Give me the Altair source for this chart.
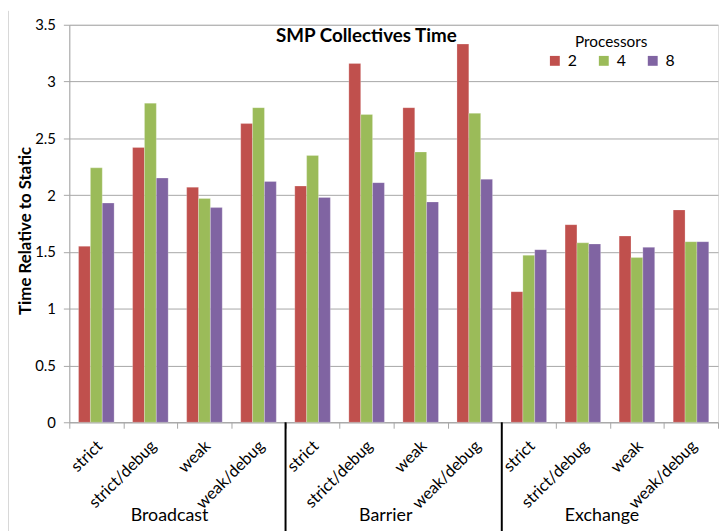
import altair as alt
import pandas as pd

FONT = "Lato"

groups = ["Broadcast", "Barrier", "Exchange"]
modes = ["strict", "strict/debug", "weak", "weak/debug"]
processors = ["2", "4", "8"]
colors = ["#C0504D", "#9BBB59", "#8064A2"]

p2 = [1.55, 2.42, 2.07, 2.63, 2.08, 3.16, 2.77, 3.33, 1.15, 1.74, 1.64, 1.87]
p4 = [2.24, 2.81, 1.97, 2.77, 2.35, 2.71, 2.38, 2.72, 1.47, 1.58, 1.45, 1.59]
p8 = [1.93, 2.15, 1.89, 2.12, 1.98, 2.11, 1.94, 2.14, 1.52, 1.57, 1.54, 1.59]

y_ticks = [0, 0.5, 1, 1.5, 2, 2.5, 3, 3.5]

keys = [f"{g}|{m}" for g in groups for m in modes]
rows = []
for i, k in enumerate(keys):
    for p, vals in zip(processors, [p2, p4, p8]):
        rows.append({"key": k, "Processors": p, "value": vals[i]})
df = pd.DataFrame(rows)

sep_df = pd.DataFrame({"key": ["Barrier|strict", "Exchange|strict"]})
grp_df = pd.DataFrame({"key": [f"{g}|strict/debug" for g in groups], "label": groups})

xscale = alt.Scale(domain=keys, paddingInner=0, paddingOuter=0)
GRAY = "#a6a6a6"

xaxis = alt.Axis(
    title=None, labelExpr="split(datum.value, '|')[1]", labelAngle=-45,
    labelAlign="right", labelBaseline="middle", labelPadding=15, labelOffset=3,
    labelFontSize=16.5, labelColor="#000", labelFont=FONT, labelOverlap=False,
    tickBand="extent", tickSize=6, tickColor=GRAY, domainColor=GRAY, grid=False)

bars = alt.Chart(df).mark_bar(stroke="#ffffff", strokeOpacity=0.3, strokeWidth=0.8).encode(
    x=alt.X("key:N", scale=xscale, axis=xaxis),
    xOffset=alt.XOffset("Processors:N", scale=alt.Scale(paddingInner=0, paddingOuter=0.78)),
    y=alt.Y("value:Q", scale=alt.Scale(domain=[0, 3.5], nice=False), axis=alt.Axis(
        title="Time Relative to Static", values=y_ticks, format="~g",
        labelFontSize=15, labelColor="#000", labelFont=FONT, labelPadding=8,
        tickSize=6, tickColor=GRAY, domainColor=GRAY, gridColor=GRAY,
        titleFont=FONT, titleFontSize=17, titleFontWeight="bold", titleColor="#000",
        titleX=-44, titleY=208, titleAngle=-90, titleAlign="center", titleBaseline="middle")),
    color=alt.Color("Processors:N", scale=alt.Scale(domain=processors, range=colors), legend=alt.Legend(
        title="Processors", orient="none", legendX=483, legendY=10, direction="horizontal",
        titleAnchor="middle", titleFontSize=15.5, titleFontWeight="normal", titleFont=FONT,
        titleColor="#000", labelFont=FONT, labelFontSize=16, labelColor="#000",
        symbolType="square", symbolSize=100, symbolStrokeWidth=0, columnPadding=18.5,
        labelOffset=5, padding=0, titlePadding=3)),
)

seps = alt.Chart(sep_df).mark_rule(color="#000", strokeWidth=2, clip=False).encode(
    x=alt.X("key:N", scale=xscale, bandPosition=0, axis=xaxis),
    y=alt.value(402), y2=alt.value(516),
)

grp = alt.Chart(grp_df).mark_text(font=FONT, fontSize=18, color="#000", baseline="middle", dx=-8).encode(
    x=alt.X("key:N", scale=xscale, bandPosition=1, axis=xaxis),
    y=alt.value(497),
    text="label:N",
)

border = alt.Chart(sep_df).mark_rule(color="#d9d9d9", strokeWidth=1, clip=False).encode(
    x=alt.value(-61.5), y=alt.value(-14), y2=alt.value(516),
)

chart = alt.layer(border, bars, seps, grp).properties(
    width=656, height=402,
    padding={"left": 62, "top": 14, "right": 1, "bottom": 108},
    autosize=alt.AutoSizeParams(type="none"),
    title=alt.TitleParams("SMP Collectives Time", anchor="start", dx=271, dy=36, offset=0,
                          font=FONT, fontSize=19, fontWeight="bold", color="#000"),
).configure_view(stroke=None).configure(background="white")

chart.save("out.html", embed_options={"renderer": "svg", "actions": False})
